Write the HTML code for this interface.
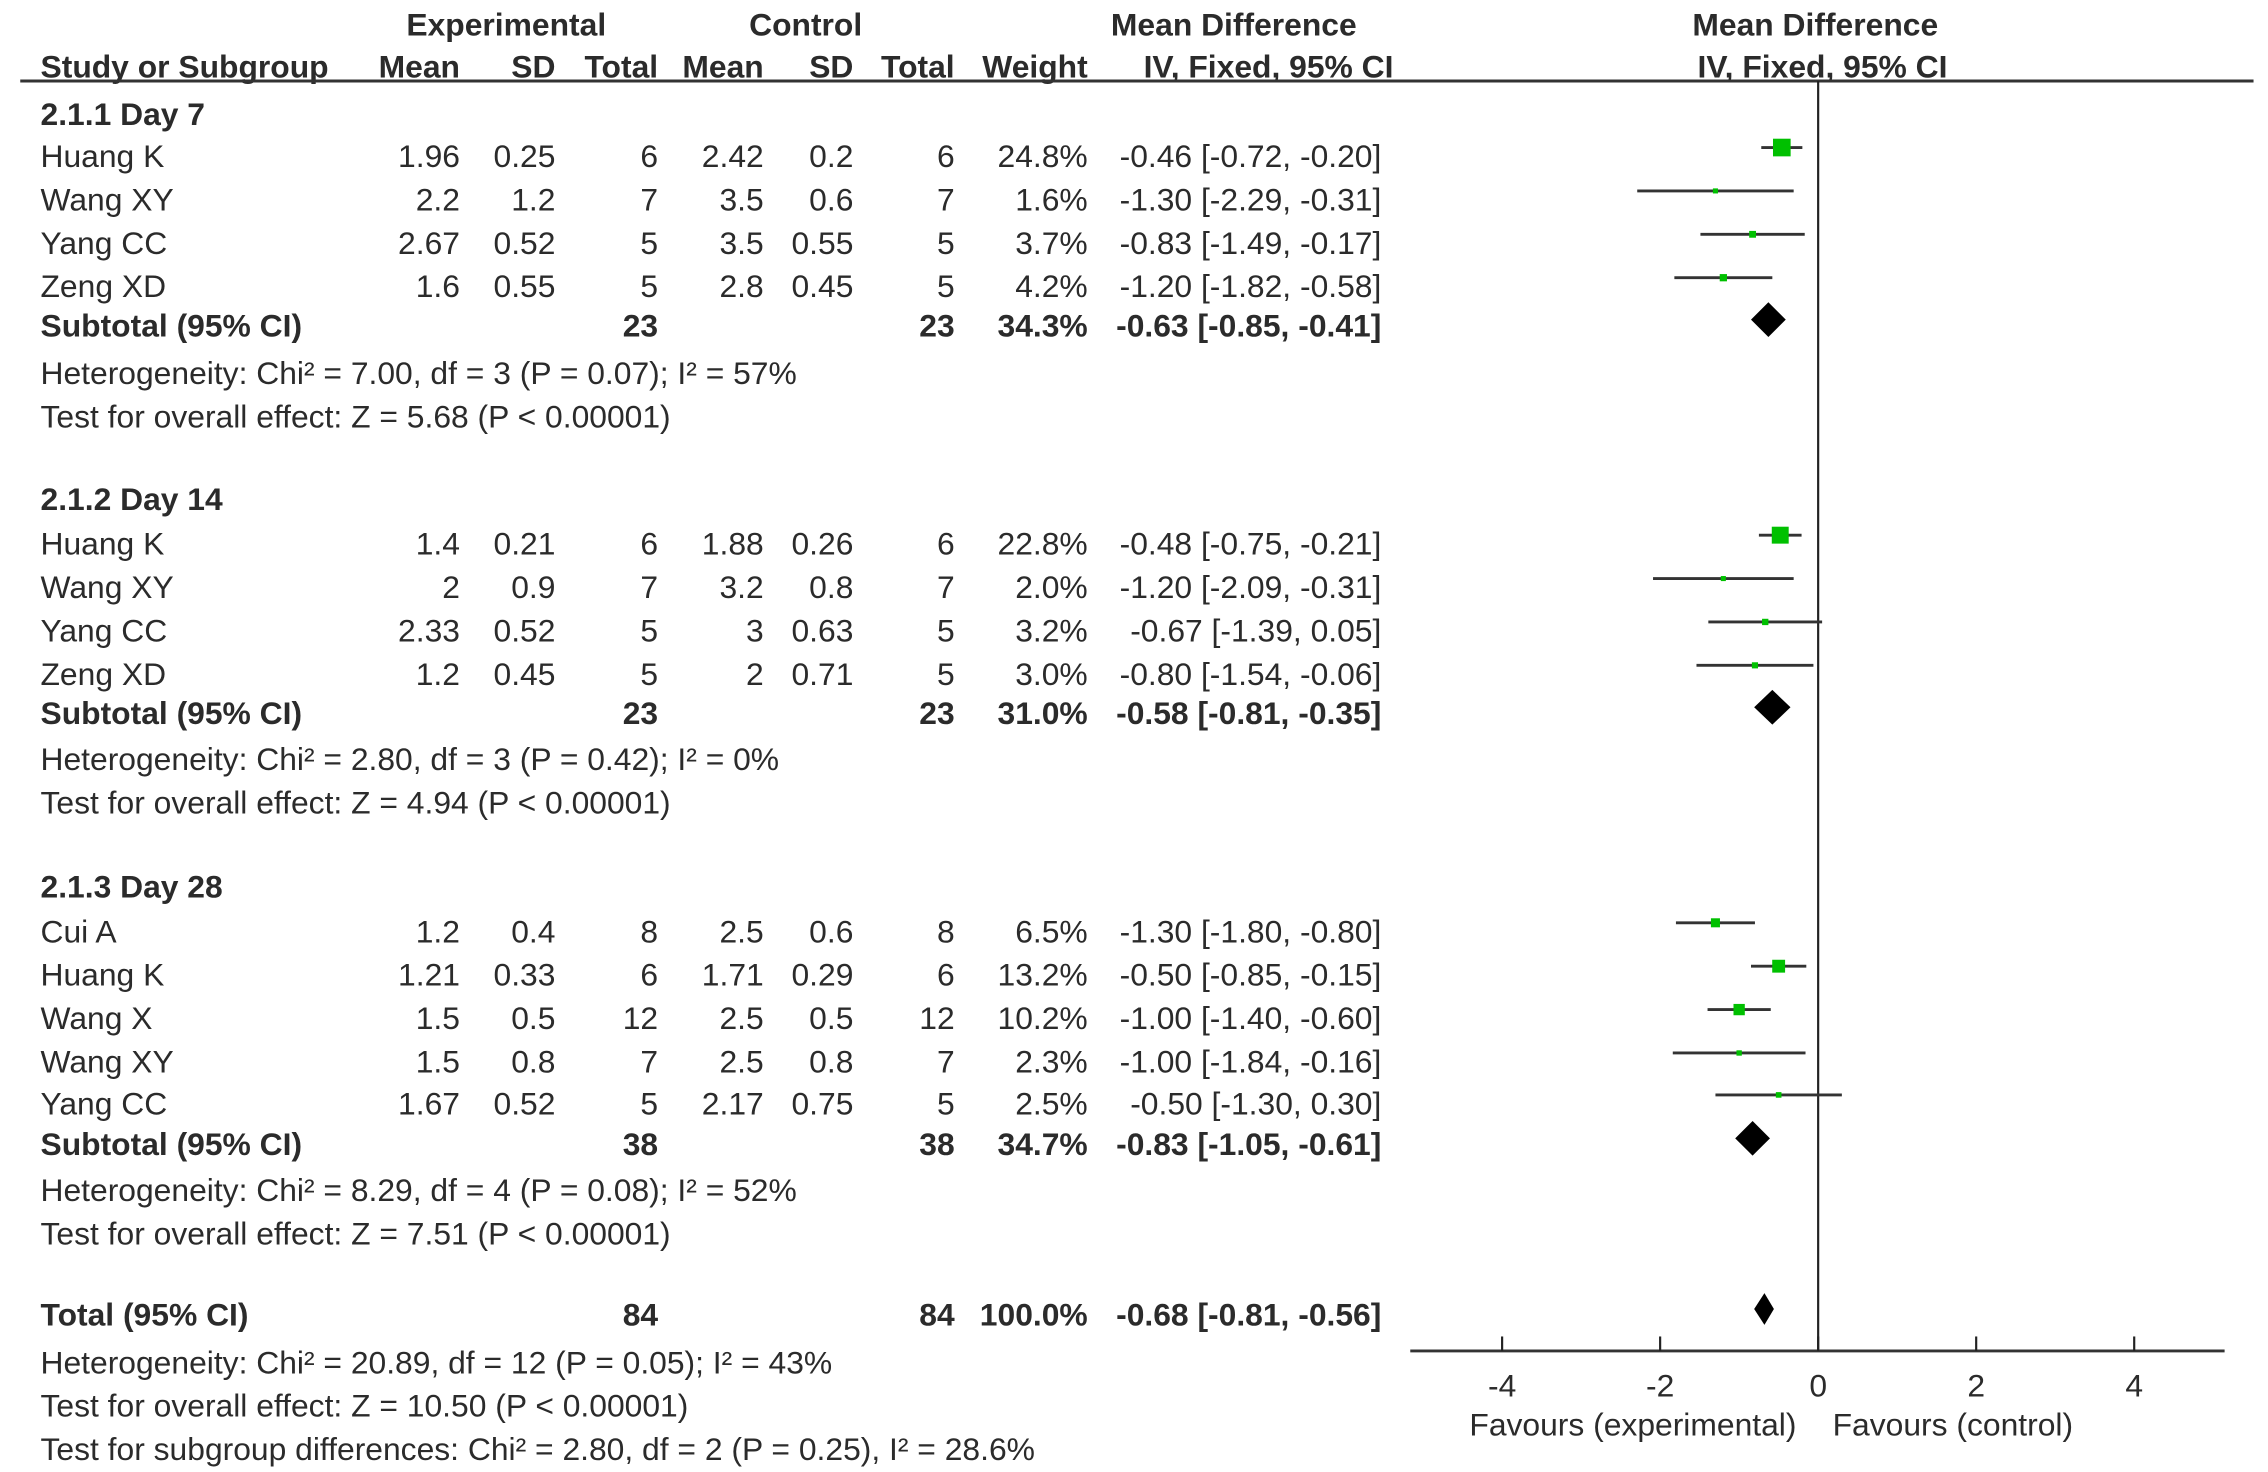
<!DOCTYPE html>
<html><head><meta charset="utf-8"><style>
html,body{margin:0;padding:0;background:#fff;}
svg{display:block;}
text{font-family:"Liberation Sans",Arial,sans-serif;fill:#2b2b2b;}
</style></head><body>
<svg id="plot" width="2268" height="1472" viewBox="0 0 1568 1017.7" preserveAspectRatio="none" xmlns="http://www.w3.org/2000/svg"></svg>
<script>
// ---- data ----
const studyNames = ["Huang K","Wang XY","Yang CC","Zeng XD","Huang K","Wang XY","Yang CC","Zeng XD","Cui A","Huang K","Wang X","Wang XY","Yang CC"];
const studyRowY = [108,138,168,198,376,406,436,466,644,674,704,734,763];
const expMean = ["1.96","2.2","2.67","1.6","1.4","2","2.33","1.2","1.2","1.21","1.5","1.5","1.67"];
const expSD = ["0.25","1.2","0.52","0.55","0.21","0.9","0.52","0.45","0.4","0.33","0.5","0.8","0.52"];
const expN = ["6","7","5","5","6","7","5","5","8","6","12","7","5"];
const ctlMean = ["2.42","3.5","3.5","2.8","1.88","3.2","3","2","2.5","1.71","2.5","2.5","2.17"];
const ctlSD = ["0.2","0.6","0.55","0.45","0.26","0.8","0.63","0.71","0.6","0.29","0.5","0.8","0.75"];
const ctlN = ["6","7","5","5","6","7","5","5","8","6","12","7","5"];
const weights = [24.8,1.6,3.7,4.2,22.8,2.0,3.2,3.0,6.5,13.2,10.2,2.3,2.5];
const md = [-0.46,-1.30,-0.83,-1.20,-0.48,-1.20,-0.67,-0.80,-1.30,-0.50,-1.00,-1.00,-0.50];
const ciLo = [-0.72,-2.29,-1.49,-1.82,-0.75,-2.09,-1.39,-1.54,-1.80,-0.85,-1.40,-1.84,-1.30];
const ciHi = [-0.20,-0.31,-0.17,-0.58,-0.21,-0.31,0.05,-0.06,-0.80,-0.15,-0.60,-0.16,0.30];

const subLabels = ["Subtotal (95% CI)","Subtotal (95% CI)","Subtotal (95% CI)","Total (95% CI)"];
const subRowY = [225,493,791,909];
const subExpN = ["23","23","38","84"];
const subCtlN = ["23","23","38","84"];
const subWeight = [34.3,31.0,34.7,100.0];
const subMd = [-0.63,-0.58,-0.83,-0.68];
const subLo = [-0.85,-0.81,-1.05,-0.81];
const subHi = [-0.41,-0.35,-0.61,-0.56];
const subDiamondH = [10,10,10,10];

const groupLabels = ["2.1.1 Day 7","2.1.2 Day 14","2.1.3 Day 28"];
const groupY = [79,345,613];
const noteLines = [
 ["Heterogeneity: Chi² = 7.00, df = 3 (P = 0.07); I² = 57%",258],
 ["Test for overall effect: Z = 5.68 (P < 0.00001)",288],
 ["Heterogeneity: Chi² = 2.80, df = 3 (P = 0.42); I² = 0%",525],
 ["Test for overall effect: Z = 4.94 (P < 0.00001)",555],
 ["Heterogeneity: Chi² = 8.29, df = 4 (P = 0.08); I² = 52%",823],
 ["Test for overall effect: Z = 7.51 (P < 0.00001)",853],
 ["Heterogeneity: Chi² = 20.89, df = 12 (P = 0.05); I² = 43%",942],
 ["Test for overall effect: Z = 10.50 (P < 0.00001)",972],
 ["Test for subgroup differences: Chi² = 2.80, df = 2 (P = 0.25), I² = 28.6%",1002]
];
const tickValues = [-4,-2,0,2,4];
const tickLabels = ["-4","-2","0","2","4"];

// ---- layout ----
const svg = document.getElementById('plot');
const NS = "http://www.w3.org/2000/svg";
const FS = 22, SX = 1.0;
const x0 = 1257, unit = (1475-1038)/8;
function xs(v){ return x0 + v*unit; }

function txt(s, x, y, anchor, bold, name){
  const t = document.createElementNS(NS,'text');
  
  
  t.setAttribute('transform', `translate(${x},${y+7.5}) scale(${SX},1)`);
  t.setAttribute('font-size', FS);
  t.setAttribute('text-anchor', anchor||'start');
  if(bold) t.setAttribute('font-weight','bold');
  t.textContent = s;
  svg.appendChild(t);
  return t;
}
function line(x1,y1,x2,y2,w,c,name){
  const l = document.createElementNS(NS,'line');
  
  
  l.setAttribute('x1',x1);l.setAttribute('y1',y1);l.setAttribute('x2',x2);l.setAttribute('y2',y2);
  l.setAttribute('stroke',c||'#333');l.setAttribute('stroke-width',w||2);
  svg.appendChild(l);
}
const colR = {em:318, esd:384, en:455, cm:528, csd:590, cn:660, w:752, ci:955};

// headers
txt("Experimental",350,17,'middle',true,'header-experimental');
txt("Control",557,17,'middle',true,'header-control');
txt("Mean Difference",853,17,'middle',true,'header-mean-difference');
txt("Mean Difference",1255,17,'middle',true,'header-plot-mean-difference');
txt("Study or Subgroup",28,46,'start',true,'header-study');
txt("Mean",colR.em,46,'end',true,'header-exp-mean');
txt("SD",colR.esd,46,'end',true,'header-exp-sd');
txt("Total",colR.en,46,'end',true,'header-exp-total');
txt("Mean",colR.cm,46,'end',true,'header-ctl-mean');
txt("SD",colR.csd,46,'end',true,'header-ctl-sd');
txt("Total",colR.cn,46,'end',true,'header-ctl-total');
txt("Weight",colR.w,46,'end',true,'header-weight');
txt("IV, Fixed, 95% CI",877,46,'middle',true,'header-iv-fixed');
txt("IV, Fixed, 95% CI",1260,46,'middle',true,'header-plot-iv-fixed');
line(14,56,1558,56,2,'#333','header-rule');

// zero line & axis
line(x0,56,x0,934,1.5,'#222','zero-line');
line(975,934,1538,934,2,'#333','x-axis');
tickValues.forEach((v,i)=>{
  line(xs(v),924,xs(v),934,1.5,'#222','x-tick');
  txt(tickLabels[i],xs(v),958,'middle',false,'x-tick-label');
});
txt("Favours (experimental)",1242,985,'end',false,'favours-experimental');
txt("Favours (control)",1267,985,'start',false,'favours-control');

groupLabels.forEach((g,i)=>txt(g,28,groupY[i],'start',true,'subgroup-title'));
noteLines.forEach(n=>txt(n[0],28,n[1],'start',false,'stat-note'));

function f2(v){ return v.toFixed(2); }
studyNames.forEach((s,i)=>{
  const y = studyRowY[i];
  txt(s,28,y,'start',false,'study-name');
  txt(expMean[i],colR.em,y,'end',false,'exp-mean');
  txt(expSD[i],colR.esd,y,'end',false,'exp-sd');
  txt(expN[i],colR.en,y,'end',false,'exp-total');
  txt(ctlMean[i],colR.cm,y,'end',false,'ctl-mean');
  txt(ctlSD[i],colR.csd,y,'end',false,'ctl-sd');
  txt(ctlN[i],colR.cn,y,'end',false,'ctl-total');
  txt(weights[i].toFixed(1)+"%",colR.w,y,'end',false,'weight');
  txt(`${f2(md[i])} [${f2(ciLo[i])}, ${f2(ciHi[i])}]`,colR.ci,y,'end',false,'ci-text');
  const my = y-6;
  line(xs(ciLo[i]),my,xs(ciHi[i]),my,2,'#333','ci-line');
  const sz = Math.max(3.5, 2.45*Math.sqrt(weights[i]));
  const r = document.createElementNS(NS,'rect');
  
  
  r.setAttribute('x',xs(md[i])-sz/2);r.setAttribute('y',my-sz/2);
  r.setAttribute('width',sz);r.setAttribute('height',sz);
  r.setAttribute('fill','#00c000');
  svg.appendChild(r);
});
subLabels.forEach((s,i)=>{
  const y = subRowY[i];
  txt(s,28,y,'start',true,'subtotal-label');
  txt(subExpN[i],colR.en,y,'end',true,'subtotal-exp-total');
  txt(subCtlN[i],colR.cn,y,'end',true,'subtotal-ctl-total');
  txt(subWeight[i].toFixed(1)+"%",colR.w,y,'end',true,'subtotal-weight');
  txt(`${f2(subMd[i])} [${f2(subLo[i])}, ${f2(subHi[i])}]`,colR.ci,y,'end',true,'subtotal-ci-text');
  const my = y-4, h = subDiamondH[i] + (i===3?1:2);
  const p = document.createElementNS(NS,'polygon');
  
  
  p.setAttribute('points',`${xs(subLo[i])},${my} ${xs(subMd[i])},${my-h} ${xs(subHi[i])},${my} ${xs(subMd[i])},${my+h}`);
  p.setAttribute('fill','#000');
  svg.appendChild(p);
});
</script>
</body></html>
